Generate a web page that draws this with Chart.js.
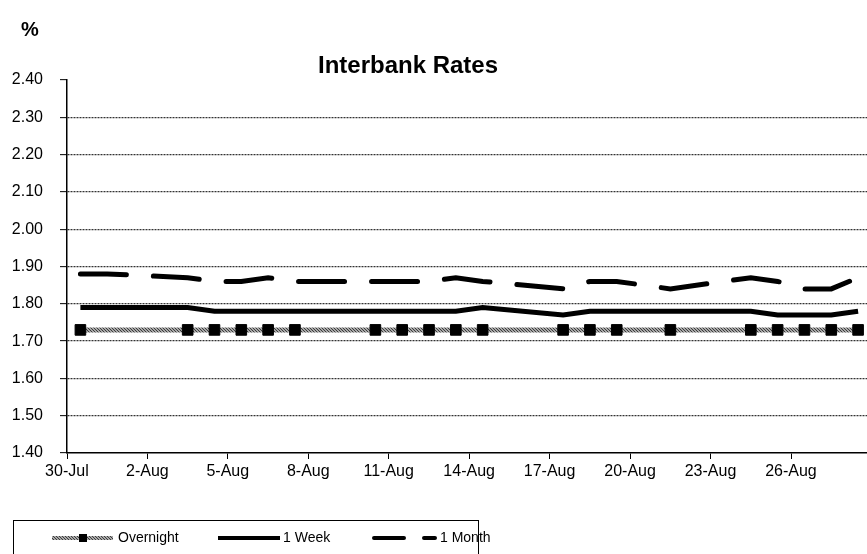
<!DOCTYPE html>
<html>
<head>
<meta charset="utf-8">
<script src="https://cdn.jsdelivr.net/npm/chart.js@4.4.1/dist/chart.umd.min.js"></script>
<style>
  html, body { margin: 0; padding: 0; background: #fff; overflow: hidden; }
  canvas { display: block; }
</style>
</head>
<body>
<canvas id="taux" width="880" height="554"></canvas>
<script>
// categories (one per day, weekends have no value)
const dates = ['30-Jul','31-Jul','1-Aug','2-Aug','3-Aug','4-Aug','5-Aug','6-Aug','7-Aug','8-Aug',
  '9-Aug','10-Aug','11-Aug','12-Aug','13-Aug','14-Aug','15-Aug','16-Aug','17-Aug','18-Aug',
  '19-Aug','20-Aug','21-Aug','22-Aug','23-Aug','24-Aug','25-Aug','26-Aug','27-Aug','28-Aug'];

const overnight = [1.73,null,null,null,1.73,1.73,1.73,1.73,1.73,null,null,1.73,1.73,1.73,1.73,1.73,
  null,null,1.73,1.73,1.73,null,1.73,null,null,1.73,1.73,1.73,1.73,1.73];
const oneWeek = [1.79,1.79,null,null,1.79,1.78,1.78,1.78,1.78,null,null,1.78,1.78,1.78,1.78,1.79,
  null,null,1.77,1.78,1.78,1.78,1.78,null,null,1.78,1.77,1.77,1.77,1.78];
const oneMonth = [1.88,1.88,null,null,1.87,1.86,1.86,1.87,1.86,null,null,1.86,1.86,1.86,1.87,1.86,
  null,null,1.84,1.86,1.86,1.85,1.84,null,null,1.87,1.86,1.84,1.84,1.87];

const yTicks = [1.40,1.50,1.60,1.70,1.80,1.90,2.00,2.10,2.20,2.30,2.40];

const police = "'Liberation Sans', Arial, sans-serif";

// grey "rope" texture for the overnight line
function motif() {
    const p = document.createElement('canvas');
    p.width = 3; p.height = 3;
    const c = p.getContext('2d');
    c.fillStyle = '#a8a8a8';
    c.fillRect(0, 0, 3, 3);
    c.fillStyle = '#3c3c3c';
    c.fillRect(0, 0, 1, 1);
    c.fillRect(1, 1, 1, 1);
    c.fillRect(2, 2, 1, 1);
    return document.getElementById('taux').getContext('2d').createPattern(p, 'repeat');
}
const corde = motif();

// title, % label and boxed legend
const decor = {
    id: 'decor',
    afterDraw(chart) {
        const ctx = chart.ctx;
        ctx.save();
        ctx.fillStyle = '#000';
        ctx.textBaseline = 'middle';
        ctx.font = 'bold 20px ' + police;
        ctx.textAlign = 'left';
        ctx.fillText('%', 21, 30);
        ctx.font = 'bold 24px ' + police;
        ctx.textAlign = 'center';
        ctx.fillText('Interbank Rates', 408, 66);

        // legend box
        ctx.strokeStyle = '#000';
        ctx.lineWidth = 1;
        ctx.strokeRect(13.5, 520.5, 465, 60);

        const y = 538;
        ctx.font = '14px ' + police;
        ctx.textAlign = 'left';

        ctx.beginPath();
        ctx.strokeStyle = corde;
        ctx.lineWidth = 4;
        ctx.moveTo(52, y); ctx.lineTo(113, y);
        ctx.stroke();
        ctx.fillStyle = '#000';
        ctx.fillRect(79, y - 4, 8, 8);
        ctx.fillText(chart.data.datasets[0].label, 118, y);

        ctx.beginPath();
        ctx.strokeStyle = '#000';
        ctx.lineWidth = 4;
        ctx.moveTo(218, y); ctx.lineTo(280, y);
        ctx.stroke();
        ctx.fillText(chart.data.datasets[1].label, 283, y);

        ctx.beginPath();
        ctx.lineCap = 'round';
        ctx.setLineDash([30, 20]);
        ctx.moveTo(374, y); ctx.lineTo(435, y);
        ctx.stroke();
        ctx.setLineDash([]);
        ctx.fillText(chart.data.datasets[2].label, 440, y);
        ctx.restore();
    }
};

const data = {
    labels: dates,
    datasets: [{
        label: 'Overnight',
        data: overnight,
        borderColor: corde,
        borderWidth: 5,
        pointStyle: 'rect',
        pointRadius: 7.5,
        pointBackgroundColor: '#000',
        pointBorderColor: '#000',
        pointBorderWidth: 1,
        spanGaps: true,
        tension: 0
    }, {
        label: '1 Week',
        data: oneWeek,
        borderColor: '#000',
        borderWidth: 5,
        pointRadius: 0,
        spanGaps: true,
        tension: 0
    }, {
        label: '1 Month',
        data: oneMonth,
        borderColor: '#000',
        borderWidth: 5,
        borderDash: [46, 27],
        borderCapStyle: 'round',
        pointRadius: 0,
        spanGaps: true,
        tension: 0
    }]
};

const options = {
    responsive: false,
    animation: false,
    devicePixelRatio: 1,
    layout: { padding: { left: 0, right: 3, top: 80, bottom: 0 } },
    plugins: {
        legend: { display: false },
        tooltip: { enabled: false }
    },
    scales: {
        x: {
            offset: true,
            afterFit: s => { s.height = 101; },
            grid: {
                offset: true,
                drawOnChartArea: false,
                tickLength: 6,
                tickColor: c => (c.index % 3 === 0 ? '#000' : 'rgba(0,0,0,0)')
            },
            border: { color: '#000', width: 1.5 },
            ticks: {
                autoSkip: false,
                maxRotation: 0,
                padding: 3,
                labelOffset: -13.5,
                color: '#000',
                font: { family: police, size: 16 },
                callback: (v, i) => (i % 3 === 0 ? dates[i] : '')
            }
        },
        y: {
            min: yTicks[0],
            max: yTicks[yTicks.length - 1],
            afterFit: s => { s.width = 67; },
            afterBuildTicks: s => { s.ticks = yTicks.map(v => ({ value: v })); },
            grid: {
                color: c => (c.tick && (c.tick.value < 1.45 || c.tick.value > 2.35) ? 'rgba(0,0,0,0)' : '#333'),
                lineWidth: 1.3,
                tickLength: 7,
                tickColor: '#000',
                tickWidth: 1
            },
            border: { color: '#000', width: 1.5, dash: [2, 1] },
            ticks: {
                padding: 17,
                color: '#000',
                font: { family: police, size: 16 },
                callback: v => v.toFixed(2)
            }
        }
    }
};

var graph = new Chart(document.getElementById('taux'), {
    type: 'line',
    data: data,
    options: options,
    plugins: [decor]
});
</script>
</body>
</html>
